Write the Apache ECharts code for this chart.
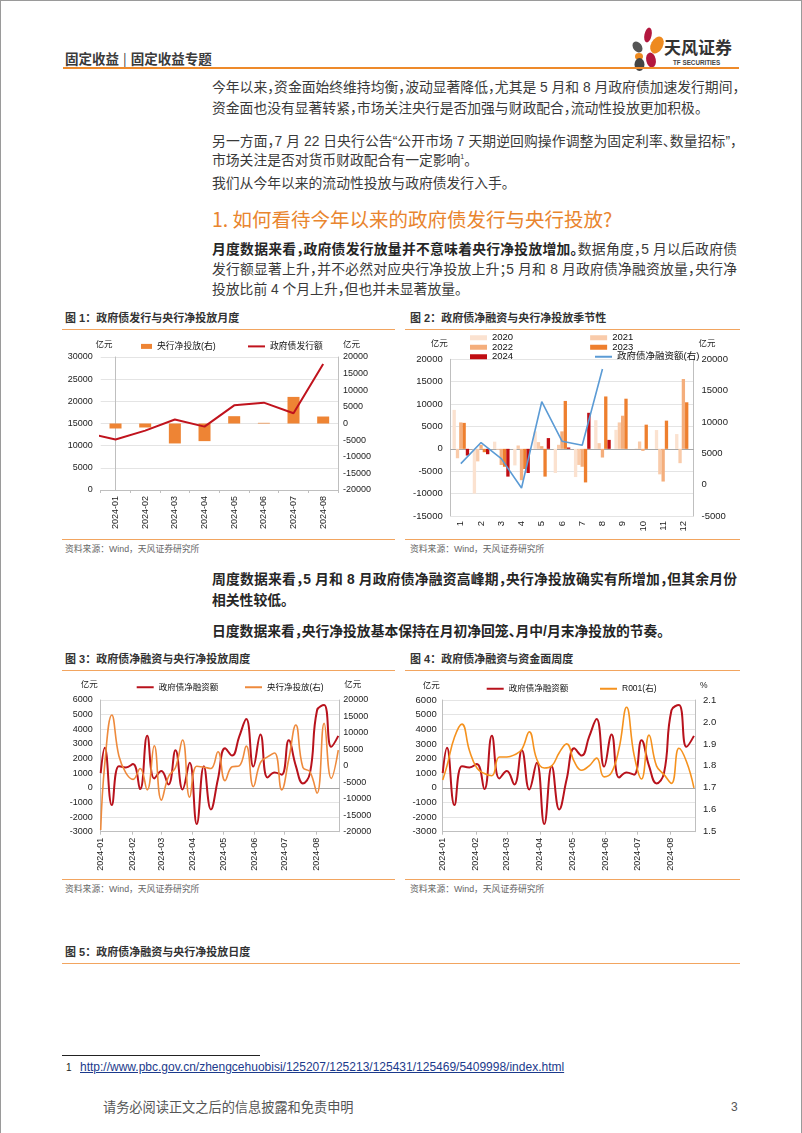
<!DOCTYPE html>
<html><head><meta charset="utf-8">
<script src="https://cdn.jsdelivr.net/npm/echarts@6.0.0/dist/echarts.min.js"></script>
<style>
*{box-sizing:border-box;}
html,body{margin:0;padding:0;background:#fff;}
body{width:802px;height:1133px;position:relative;overflow:hidden;font-family:"Liberation Sans","Noto Sans CJK SC",sans-serif;color:#333;}
.a{position:absolute;white-space:nowrap;}
.ln{position:absolute;left:212px;width:525px;font-size:13.8px;line-height:20px;height:20px;white-space:nowrap;color:#3a3a3a;font-feature-settings:"halt";}
.jl{text-align:justify;text-align-last:justify;}
.b{font-weight:bold;color:#262626;}
.hl{position:absolute;height:0;border-top:1.3px solid #F2A560;}
.ct{position:absolute;font-size:11px;font-weight:bold;color:#333;line-height:14px;white-space:nowrap;}
.src{position:absolute;font-size:8.8px;color:#666;line-height:12px;white-space:nowrap;}
.chart{position:absolute;}
sup{font-size:7px;line-height:0;vertical-align:super;}
</style></head><body>
<div class="a" style="left:0;top:0;width:802px;height:1133px;border:1px solid #9a9a9a;border-bottom:none;"></div>

<!-- header -->
<div class="a" style="left:65px;top:49px;font-size:13.5px;line-height:18px;font-weight:bold;color:#3a3a3a;font-family:'Noto Sans CJK SC'">固定收益<span style="display:inline-block;margin:0 4px;font-weight:normal">|</span>固定收益专题</div>
<svg class="a" style="left:630px;top:26px" width="38" height="46" viewBox="0 0 38 46">
 <ellipse cx="18" cy="9" rx="3.6" ry="7.5" fill="#B3173E" transform="rotate(12 18 9)"/>
 <ellipse cx="27" cy="19" rx="6" ry="9" fill="#EE8A1F" transform="rotate(28 27 19)"/>
 <ellipse cx="7.5" cy="21" rx="4.3" ry="6" fill="#555" transform="rotate(-38 7.5 21)"/>
 <ellipse cx="9" cy="30.5" rx="4" ry="3.4" fill="#EE8A1F"/>
 <ellipse cx="9.5" cy="38.5" rx="5" ry="6.5" fill="#444"/>
 <ellipse cx="21" cy="34" rx="4.8" ry="7.5" fill="#B3173E" transform="rotate(-12 21 34)"/>
</svg>
<div class="a" style="left:664px;top:37px;font-size:17px;line-height:20px;font-weight:bold;color:#333;font-family:'Noto Sans CJK SC'">天风证券</div>
<div class="a" style="left:673px;top:59px;font-size:6.3px;line-height:8px;font-weight:bold;color:#444;">TF SECURITIES</div>
<div class="a" style="left:63px;top:67px;width:676px;height:0;border-top:2px solid #EE8A2A;"></div>

<!-- body text -->
<div class="ln jl" style="top:78px">今年以来，资金面始终维持均衡，波动显著降低，尤其是 5 月和 8 月政府债加速发行期间，</div>
<div class="ln" style="top:99px">资金面也没有显著转紧，市场关注央行是否加强与财政配合，流动性投放更加积极。</div>
<div class="ln jl" style="top:132px">另一方面，7 月 22 日央行公告“公开市场 7 天期逆回购操作调整为固定利率、数量招标”，</div>
<div class="ln" style="top:151px">市场关注是否对货币财政配合有一定影响<sup>1</sup>。</div>
<div class="ln" style="top:174px">我们从今年以来的流动性投放与政府债发行入手。</div>
<div class="a" style="left:212px;top:205px;font-size:19.5px;line-height:27px;color:#E9852E;font-family:'Noto Sans CJK SC'">1. 如何看待今年以来的政府债发行与央行投放?</div>
<div class="ln jl" style="top:240px"><span class="b">月度数据来看，政府债发行放量并不意味着央行净投放增加。</span>数据角度，5 月以后政府债</div>
<div class="ln jl" style="top:260px">发行额显著上升，并不必然对应央行净投放上升；5 月和 8 月政府债净融资放量，央行净</div>
<div class="ln" style="top:279.5px">投放比前 4 个月上升，但也并未显著放量。</div>

<!-- figure row 1 -->
<div class="ct" style="left:65px;top:311px">图 1：政府债发行与央行净投放月度</div>
<div class="ct" style="left:410px;top:311px">图 2：政府债净融资与央行净投放季节性</div>
<div class="hl" style="left:62px;top:328.5px;width:333px"></div>
<div class="hl" style="left:405px;top:328.5px;width:335px"></div>
<div class="hl" style="left:62px;top:539px;width:333px"></div>
<div class="hl" style="left:405px;top:539px;width:335px"></div>
<div class="src" style="left:65px;top:543px">资料来源：Wind，天风证券研究所</div>
<div class="src" style="left:410px;top:543px">资料来源：Wind，天风证券研究所</div>
<div id="c1" class="chart" style="left:60px;top:332px;width:340px;height:205px"></div>
<div id="c2" class="chart" style="left:400px;top:326px;width:340px;height:211px"></div>

<div class="ln jl b" style="top:570px">周度数据来看，5 月和 8 月政府债净融资高峰期，央行净投放确实有所增加，但其余月份</div>
<div class="ln b" style="top:591px">相关性较低。</div>
<div class="ln b" style="top:622px">日度数据来看，央行净投放基本保持在月初净回笼、月中/月末净投放的节奏。</div>

<!-- figure row 2 -->
<div class="ct" style="left:65px;top:652px">图 3：政府债净融资与央行净投放周度</div>
<div class="ct" style="left:410px;top:652px">图 4：政府债净融资与资金面周度</div>
<div class="hl" style="left:62px;top:669.5px;width:333px"></div>
<div class="hl" style="left:405px;top:669.5px;width:335px"></div>
<div class="hl" style="left:62px;top:879px;width:333px"></div>
<div class="hl" style="left:405px;top:879px;width:335px"></div>
<div class="src" style="left:65px;top:883px">资料来源：Wind，天风证券研究所</div>
<div class="src" style="left:410px;top:883px">资料来源：Wind，天风证券研究所</div>
<div id="c3" class="chart" style="left:60px;top:672px;width:340px;height:206px"></div>
<div id="c4" class="chart" style="left:400px;top:672px;width:340px;height:206px"></div>

<div class="ct" style="left:65px;top:945px">图 5：政府债净融资与央行净投放日度</div>
<div class="hl" style="left:62px;top:962.5px;width:678px"></div>

<!-- footnote -->
<div class="a" style="left:62px;top:1055px;width:198px;height:0;border-top:1px solid #222;"></div>
<div class="a" style="left:66px;top:1061px;font-size:10px;line-height:14px;color:#222">1</div>
<div class="a" style="left:80px;top:1060px;font-size:12px;line-height:15px;color:#1B3A8C;text-decoration:underline">http://www.pbc.gov.cn/zhengcehuobisi/125207/125213/125431/125469/5409998/index.html</div>
<div class="a" style="left:103px;top:1099px;font-size:13.2px;line-height:16px;color:#555;font-family:'Noto Sans CJK SC'">请务必阅读正文之后的信息披露和免责申明</div>
<div class="a" style="left:731px;top:1099px;font-size:12px;line-height:16px;color:#555">3</div>

<script>
// ---------- data ----------
const months2024 = ['2024-01','2024-02','2024-03','2024-04','2024-05','2024-06','2024-07','2024-08'];
const pbocNetMonthly = [-1500, -1200, -6000, -5300, 2200, 200, 8000, 2100];          // 央行净投放(右), 亿元
const govIssueMonths = ['2023-12','2024-01','2024-02','2024-03','2024-04','2024-05','2024-06','2024-07','2024-08'];
const govIssueMonthly = [12900, 11400, 13400, 15900, 14300, 19100, 19700, 17300, 28400]; // 政府债发行额, 亿元

const monthNums = ['1','2','3','4','5','6','7','8','9','10','11','12'];
const net2020 = [8700, -10000, 1600, -3700, 3900, -5400, -6300, 6400, 4250, 100, 4200, 3300];
const net2021 = [-2100, -2800, -200, 750, 1500, 900, -3600, 1270, 5900, 1640, -5700, -3200];
const net2022 = [5900, 900, -3600, -7000, 600, 3900, -4000, -1940, 7400, -450, -7300, 15600];
const net2023 = [5800, -750, -4000, -4500, -6200, 10700, -7500, 11700, 11200, 5400, 6300, 10400];
const net2024 = [-1500, -1200, -6200, -5400, 2400, 300, 8050, 2000];
const govNetFin2024 = [3360, 6720, 4160, -530, 13230, 6930, 6290, 18450];          // 政府债净融资额(右)

const weekDates = ['2024-01-01','2024-01-05','2024-01-12','2024-01-19','2024-01-26','2024-02-02','2024-02-09',
 '2024-02-16','2024-02-23','2024-03-01','2024-03-08','2024-03-15','2024-03-22','2024-03-29','2024-04-05',
 '2024-04-12','2024-04-19','2024-04-26','2024-05-03','2024-05-10','2024-05-17','2024-05-24','2024-05-31',
 '2024-06-07','2024-06-14','2024-06-21','2024-06-28','2024-07-05','2024-07-12','2024-07-19','2024-07-26',
 '2024-08-02','2024-08-09','2024-08-16','2024-08-23'];
const govNetWeekly = [1000, 2730, -1180, 1480, 1390, 1620, -90, 3550, 640, 1140, 230, 2570, -110, 1710, -2480,
 1480, -1480, 600, 2700, 2200, 3500, 4700, 1450, 3650, 700, 1050, 900, 3250, 1500, 300, 1000, 5300, 5650, 2800, 3550];
const pbocNetWeekly = [-19500, 500, 15450, 3000, -2200, -4100, -800, -7300, 6100, -10400, -3300, -500, 7850, -9500,
 -100, -400, -800, 4300, -4500, -300, 0, 6000, -6300, 1000, 2700, 3900, -7300, 2000, 12400, -500, -1800, -8300, 12900, -3800, 4800];
const r001Weekly = [1.736, 1.80, 1.93, 1.99, 1.87, 1.79, 1.765, 1.755, 1.84, 1.84, 1.85, 1.875, 1.955, 1.83, 1.79,
 1.80, 1.86, 1.90, 1.82, 1.78, 1.80, 1.835, 1.75, 1.77, 1.88, 2.067, 1.85, 1.74, 1.94, 1.80, 1.76, 1.72, 1.88, 1.82, 1.70];

// ---------- styles ----------
const FONT = '"Liberation Sans", Arial, "Noto Sans CJK SC", sans-serif';
const AX = '#BFBFBF', GRIDC = '#E4E4E4', LBL = '#222', ZERO = '#A8A8A8';
const ORANGE = '#EE8434', DRED = '#C0131D';
const plain = (v) => String(v);

function leftAxis(min, max, interval, fs, gap, extra) {
  return Object.assign({
    type: 'value', min, max, interval, position: 'left',
    name: '亿元', nameLocation: 'end', nameGap: gap,
    nameTextStyle: { fontSize: 8.5, color: LBL, align: 'right', padding: [0, 3, 0, 0], fontFamily: FONT },
    axisLine: { show: true, lineStyle: { color: AX } }, axisTick: { show: false },
    splitLine: { show: true, lineStyle: { color: GRIDC } },
    axisLabel: { fontSize: fs, color: LBL, margin: 8, fontFamily: FONT, formatter: plain }
  }, extra || {});
}
function rightAxis(min, max, interval, fs, gap, name, extra) {
  return Object.assign({
    type: 'value', min, max, interval, position: 'right',
    name, nameLocation: 'end', nameGap: gap,
    nameTextStyle: { fontSize: 8.5, color: LBL, align: 'left', padding: [0, 0, 0, 5], fontFamily: FONT },
    axisLine: { show: true, lineStyle: { color: AX } }, axisTick: { show: false },
    splitLine: { show: false },
    axisLabel: { fontSize: fs, color: LBL, margin: 5, fontFamily: FONT, formatter: plain }
  }, extra || {});
}
const legendText = (fs) => ({ fontSize: fs, color: '#111', fontFamily: FONT });
const lineLegend = (name, left, top, fs) => ({ data: [name], left, top, icon: 'rect', itemWidth: 17, itemHeight: 2, textStyle: legendText(fs) });
const rectLegend = (names, left, top, fs, w, h, gap) => ({ data: names, left, top, icon: 'rect', itemWidth: w, itemHeight: h, itemGap: gap || 10, textStyle: legendText(fs) });

// ---------- chart 1 ----------
const c1 = echarts.init(document.getElementById('c1'));
c1.setOption({
  animation: false,
  textStyle: { fontFamily: FONT },
  legend: [
    rectLegend(['央行净投放(右)'], 76, 5, 8.8, 11, 5),
    lineLegend('政府债发行额', 183, 5, 8.8)
  ],
  grid: { left: 40.7, right: 62, top: 25, bottom: 47 },
  xAxis: [
    { type: 'category', data: months2024, axisLine: { lineStyle: { color: AX } },
      axisTick: { show: true, length: 3, lineStyle: { color: AX } },
      axisLabel: { rotate: 90, fontSize: 9, color: LBL, margin: 6, fontFamily: FONT } },
    { type: 'value', min: -0.5, max: 7.5, show: false }
  ],
  yAxis: [ leftAxis(0, 30000, 5000, 9, 8), rightAxis(-20000, 20000, 5000, 9, 8, '亿元') ],
  series: [
    { name: '央行净投放(右)', type: 'bar', xAxisIndex: 0, yAxisIndex: 1, data: pbocNetMonthly, barWidth: 12,
      itemStyle: { color: ORANGE } },
    { name: '政府债发行额', type: 'line', xAxisIndex: 1, yAxisIndex: 0, symbol: 'none', clip: true,
      data: govIssueMonthly.map((v, i) => [i - 1, v]), lineStyle: { color: DRED, width: 2 }, itemStyle: { color: DRED } }
  ]
});

// ---------- chart 2 ----------
const c2 = echarts.init(document.getElementById('c2'));
const yearColors = { '2020': '#FBE2D0', '2021': '#F9CBAA', '2022': '#F4AE7C', '2023': '#EE7F2E', '2024': '#C00D12' };
const barSeries = [['2020', net2020], ['2021', net2021], ['2022', net2022], ['2023', net2023], ['2024', net2024]]
  .map(([n, d]) => ({ name: n, type: 'bar', xAxisIndex: 0, yAxisIndex: 0, data: d, barGap: 0, barCategoryGap: '18%',
    itemStyle: { color: yearColors[n] } }));
c2.setOption({
  animation: false,
  textStyle: { fontFamily: FONT },
  legend: [
    rectLegend(['2020', '2021'], 65, 2, 9.5, 17, 5, 77),
    rectLegend(['2022', '2023'], 65, 11.5, 9.5, 17, 5, 77),
    rectLegend(['2024'], 65, 21, 9.5, 17, 5),
    lineLegend('政府债净融资额(右)', 190, 21, 9.5)
  ],
  grid: { left: 50.7, right: 46.5, top: 33.3, bottom: 21 },
  xAxis: [
    { type: 'category', data: monthNums, position: 'bottom', axisLine: { show: false, onZero: false }, axisTick: { show: false },
      axisLabel: { rotate: 90, fontSize: 9.5, color: LBL, margin: 5, fontFamily: FONT } },
    { type: 'category', data: monthNums, position: 'top', axisLine: { show: true, onZero: true, lineStyle: { color: ZERO } },
      axisTick: { show: false }, axisLabel: { show: false } }
  ],
  yAxis: [ leftAxis(-15000, 20000, 5000, 9.5, 11),
           rightAxis(-5000, 20000, 5000, 9.5, 11, '亿元', { axisLabel: { fontSize: 9.5, color: LBL, margin: 8, fontFamily: FONT, formatter: plain } }) ],
  series: barSeries.concat([
    { name: '政府债净融资额(右)', type: 'line', xAxisIndex: 0, yAxisIndex: 1, data: govNetFin2024, symbol: 'none',
      lineStyle: { color: '#5B9BD5', width: 1.6 }, itemStyle: { color: '#5B9BD5' } }
  ])
});

// ---------- chart 3 & 4 ----------
const fmtMonth = (v) => { const d = new Date(v); return d.getFullYear() + '-' + String(d.getMonth() + 1).padStart(2, '0'); };
function timeAxes() {
  return [
    { type: 'time', min: '2024-01-01', max: '2024-08-24', splitNumber: 8, minInterval: 28 * 86400000,
      axisLine: { show: true, onZero: false, lineStyle: { color: AX } },
      axisTick: { show: true, length: 3, lineStyle: { color: AX } }, splitLine: { show: false },
      axisLabel: { rotate: 90, fontSize: 9, color: LBL, margin: 6, formatter: fmtMonth, showMaxLabel: false, hideOverlap: false, fontFamily: FONT } },
    { type: 'time', min: '2024-01-01', max: '2024-08-24', position: 'top',
      axisLine: { show: true, onZero: true, lineStyle: { color: ZERO } }, axisTick: { show: false }, axisLabel: { show: false }, splitLine: { show: false } }
  ];
}
const pairs = (arr) => arr.map((v, i) => [weekDates[i], v]);

const c3 = echarts.init(document.getElementById('c3'));
c3.setOption({
  animation: false,
  textStyle: { fontFamily: FONT },
  legend: [ lineLegend('政府债净融资额', 71.7, 6, 8.5), lineLegend('央行净投放(右)', 180, 6, 8.5) ],
  grid: { left: 40.7, right: 60.7, top: 28, bottom: 46.3 },
  xAxis: timeAxes(),
  yAxis: [ leftAxis(-3000, 6000, 1000, 9, 11),
           rightAxis(-20000, 20000, 5000, 9, 11, '亿元', { axisLabel: { fontSize: 9, color: LBL, margin: 4, fontFamily: FONT, formatter: plain } }) ],
  series: [
    { name: '政府债净融资额', type: 'line', xAxisIndex: 0, yAxisIndex: 0, data: pairs(govNetWeekly), smooth: 0.45, symbol: 'none',
      lineStyle: { color: '#B8121C', width: 2 }, itemStyle: { color: '#B8121C' } },
    { name: '央行净投放(右)', type: 'line', xAxisIndex: 0, yAxisIndex: 1, data: pairs(pbocNetWeekly), smooth: 0.45, symbol: 'none',
      lineStyle: { color: '#EE8A3C', width: 1.6 }, itemStyle: { color: '#EE8A3C' } }
  ]
});

const c4 = echarts.init(document.getElementById('c4'));
c4.setOption({
  animation: false,
  textStyle: { fontFamily: FONT },
  legend: [ lineLegend('政府债净融资额', 81.7, 7.5, 8.5), lineLegend('R001(右)', 195, 7.5, 8.5) ],
  grid: { left: 42.7, right: 45, top: 28, bottom: 46.3 },
  xAxis: timeAxes(),
  yAxis: [ leftAxis(-3000, 6000, 1000, 9.5, 10, { axisLabel: { fontSize: 9.5, color: LBL, margin: 6, fontFamily: FONT, formatter: plain } }),
           rightAxis(1.5, 2.1, 0.1, 9.5, 10, '%', { axisLabel: { fontSize: 9.5, color: LBL, margin: 8, fontFamily: FONT, formatter: (v) => v.toFixed(1) } }) ],
  series: [
    { name: '政府债净融资额', type: 'line', xAxisIndex: 0, yAxisIndex: 0, data: pairs(govNetWeekly), smooth: 0.45, symbol: 'none',
      lineStyle: { color: '#B8121C', width: 2 }, itemStyle: { color: '#B8121C' } },
    { name: 'R001(右)', type: 'line', xAxisIndex: 0, yAxisIndex: 1, data: pairs(r001Weekly), smooth: 0.45, symbol: 'none',
      lineStyle: { color: '#F5921E', width: 1.6 }, itemStyle: { color: '#F5921E' } }
  ]
});
</script>
</body></html>
